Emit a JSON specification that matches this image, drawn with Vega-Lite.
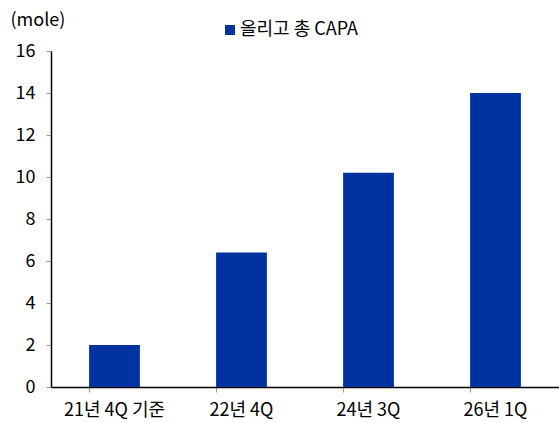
{
  "$schema": "https://vega.github.io/schema/vega-lite/v6.json",
  "width": 508,
  "height": 336,
  "autosize": "none",
  "padding": {"left": 51, "top": 51, "right": 0, "bottom": 36},
  "background": "white",
  "config": {
    "view": {"stroke": null},
    "font": "Liberation Sans Narrow, Noto Sans CJK KR, sans-serif"
  },
  "data": {
    "values": [
      {"period": "21년 4Q 기준", "series": "올리고 총 CAPA", "value": 2.0},
      {"period": "22년 4Q", "series": "올리고 총 CAPA", "value": 6.4},
      {"period": "24년 3Q", "series": "올리고 총 CAPA", "value": 10.2},
      {"period": "26년 1Q", "series": "올리고 총 CAPA", "value": 14.0}
    ]
  },
  "mark": {"type": "bar", "color": "#0033A0"},
  "encoding": {
    "x": {
      "field": "period",
      "type": "nominal",
      "sort": null,
      "scale": {"paddingInner": 0.6, "paddingOuter": 0.3},
      "axis": {
        "title": null,
        "labelAngle": 0,
        "labelFont": "Liberation Sans Narrow, Noto Sans CJK KR, sans-serif",
        "labelFontSize": 18,
        "labelColor": "#000000",
        "labelPadding": 9,
        "domainColor": "#000000",
        "domainWidth": 1.5,
        "tickColor": "#999999",
        "tickSize": 5,
        "bandPosition": 0
      }
    },
    "y": {
      "field": "value",
      "type": "quantitative",
      "scale": {"domain": [0, 16]},
      "axis": {
        "values": [0, 2, 4, 6, 8, 10, 12, 14, 16],
        "title": "(mole)",
        "titleAngle": 0,
        "titleX": -41,
        "titleY": -26,
        "titleAlign": "left",
        "titleBaseline": "alphabetic",
        "titleFont": "Liberation Sans Narrow, Noto Sans CJK KR, sans-serif",
        "titleFontSize": 18,
        "titleFontWeight": "normal",
        "titleColor": "#000000",
        "labelFont": "Liberation Sans Narrow, Noto Sans CJK KR, sans-serif",
        "labelFontSize": 18,
        "labelColor": "#000000",
        "labelPadding": 11,
        "domainColor": "#000000",
        "domainWidth": 1.5,
        "tickColor": "#999999",
        "tickSize": 5,
        "grid": false
      }
    },
    "color": {
      "field": "series",
      "type": "nominal",
      "scale": {"range": ["#0033A0"]},
      "legend": {
        "title": null,
        "orient": "none",
        "legendX": 170,
        "legendY": -30,
        "symbolType": "square",
        "symbolSize": 100,
        "symbolStrokeWidth": 0,
        "labelFont": "Liberation Sans Narrow, Noto Sans CJK KR, sans-serif",
        "labelFontSize": 18,
        "labelColor": "#000000",
        "labelOffset": 1
      }
    }
  }
}
